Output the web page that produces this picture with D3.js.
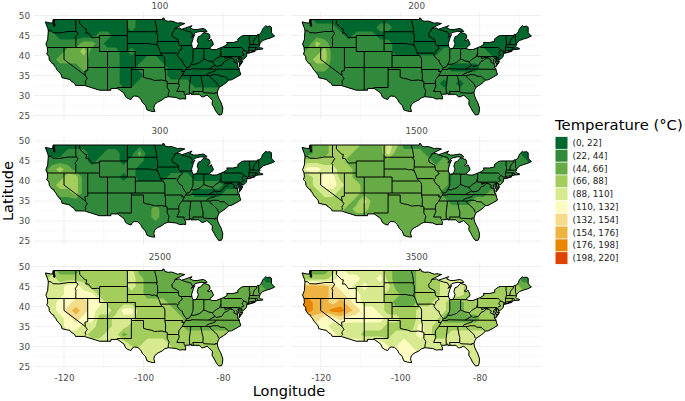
<!DOCTYPE html>
<html lang="en">
<head>
<meta charset="UTF-8">
<title>Temperature maps</title>
<script src="https://d3js.org/d3.v7.min.js"></script>
<style>
  body { margin: 0; background: white; }
  text { font-family: "DejaVu Sans", sans-serif; }
</style>
</head>
<body>
<svg id="chart" width="685" height="401"></svg>
<script>
// facet labels and legend
const panelLabels = ["100", "200", "300", "1500", "2500", "3500"];
const binLabels = ["(0, 22]", "(22, 44]", "(44, 66]", "(66, 88]", "(88, 110]", "(110, 132]", "(132, 154]", "(154, 176]", "(176, 198]", "(198, 220]"];
const binColors = ["#00682f", "#31893b", "#67ab47", "#a3cd5c", "#d8ea90", "#fdfcc0", "#f5dc8b", "#eeb443", "#e98600", "#dd4400"];
const lonTicks = [-120, -100, -80];
const latTicks = [25, 30, 35, 40, 45, 50];
const lonMinor = [-110, -90, -70];
const latMinor = [27.5, 32.5, 37.5, 42.5, 47.5];

// temperature class, one string per latitude 49,47..25
// columns are longitudes -125,-123..-67
const grid100 = [
  "00000 00000 01000 00000 00000 00000",
  "00000 00000 01000 00000 00000 00000",
  "11000 00110 00000 00000 00000 00000",
  "11111 22100 00000 00000 00000 00000",
  "11122 31111 01000 00000 00000 00000",
  "11222 21111 00011 00000 00000 00000",
  "11111 21111 00111 10000 00000 00000",
  "11111 11111 00011 10000 00000 00000",
  "11111 11111 00111 11110 00000 00000",
  "11111 11111 11111 11111 11110 00000",
  "11111 11111 11111 11111 11111 11111",
  "11111 11111 11111 11111 11111 11111",
  "11111 11111 11111 11111 11111 11111"
];
const grid200 = [
  "11000 00000 00000 00000 00000 00000",
  "11111 00000 11000 00000 00000 00000",
  "11111 10111 00000 00000 00000 00000",
  "11321 11111 11000 00000 00000 00000",
  "12231 11111 11000 00011 11110 00000",
  "12331 11111 11111 11111 11111 00000",
  "11221 11111 11111 11110 00011 11000",
  "11111 11111 11111 11111 11111 11111",
  "11111 11111 11111 11101 01111 11111",
  "11111 11111 11111 11111 11111 11111",
  "11111 11111 11111 11111 11111 11111",
  "11111 11111 11111 11111 11111 11111",
  "11111 11111 11111 11111 11111 11111"
];
const grid300 = [
  "00000 00000 00000 00000 00000 00000",
  "00011 10011 00200 00000 00000 00000",
  "11111 10111 01100 00000 00000 00000",
  "12321 11111 11000 00000 00000 00000",
  "12233 11111 01000 01110 00000 00000",
  "12333 11111 11111 11111 11100 00000",
  "11223 11111 11111 11110 00011 11000",
  "11111 11111 11111 11111 11111 11111",
  "11111 11111 11112 11111 11111 11111",
  "11111 11111 11112 11111 11111 11111",
  "11111 11111 11111 11111 11111 11111",
  "11111 11111 11111 11111 11111 11111",
  "11111 11111 11111 11111 11111 11111"
];
const grid1500 = [
  "11223 33322 24311 11111 11111 11100",
  "11223 33222 24222 21111 11111 11100",
  "33333 32222 22222 22121 11111 11110",
  "45544 33222 22222 22221 11111 11111",
  "33455 33222 22222 22221 11111 11111",
  "33455 43322 22222 22221 11111 21111",
  "33344 33322 22222 22211 11112 11111",
  "23333 33242 22222 22221 11222 22222",
  "22233 32332 22222 22222 22222 22222",
  "22222 22222 22222 22222 22222 22222",
  "22222 22222 22222 22222 22222 22222",
  "22222 22222 22222 22222 22222 22222",
  "22222 22222 22222 22222 22222 22222"
];
const grid2500 = [
  "33222 33333 34222 22222 22222 22100",
  "34333 33333 34322 22222 22222 22100",
  "34455 43333 34322 22222 22222 22211",
  "44455 55333 33322 22222 22222 22222",
  "44556 65533 33333 32222 22222 22222",
  "44567 65443 55333 33222 22222 22222",
  "33456 55334 44333 33322 22222 22222",
  "44455 44334 43333 33322 22222 22222",
  "44444 43344 23333 33333 33333 33333",
  "44444 44444 43344 43333 33333 33333",
  "44444 44444 44444 44333 33333 33333",
  "44444 44444 44444 44333 33333 33333",
  "44444 44444 44444 44333 33333 33333"
];
const grid3500 = [
  "22223 54444 43222 33344 44433 33110",
  "33334 55544 53222 33344 44433 33211",
  "77776 55454 44222 33344 43333 33322",
  "77776 65544 43322 33344 43333 33332",
  "88776 76544 43222 33442 23333 33333",
  "98778 87655 43333 44442 23333 33333",
  "66655 65555 54433 44422 22233 33333",
  "55554 44444 43333 54333 33333 33333",
  "55555 44433 33444 54334 44443 33333",
  "55555 55555 54454 44444 44444 44444",
  "55555 55556 65555 44444 44444 44444",
  "55555 55556 66555 44444 44444 44444",
  "55555 55556 66555 44444 44444 44444"
];
const panelGrids = [grid100, grid200, grid300, grid1500, grid2500, grid3500];

// US outline, lon/lat
const usOutline = [[-124.7,48.4],[-123.5,48.15],[-122.8,48.15],[-122.75,49],[-95.15,49],[-95.15,49.38],[-94.8,49.3],[-94.6,48.75],[-93.8,48.55],[-92.95,48.62],[-92,48.3],[-91.4,48.07],[-90.8,48.2],[-89.6,48],[-90.5,47.6],[-92.1,46.75],[-90.9,46.9],[-90.4,46.55],[-89.6,46.83],[-88.5,47.2],[-87.8,47.47],[-88.3,46.9],[-87.4,46.5],[-86.5,46.5],[-85,46.75],[-84.4,46.5],[-84,46],[-84.7,45.95],[-85.5,46.05],[-86.5,45.85],[-87,45.7],[-87.6,45.1],[-88,44.55],[-87.4,44.9],[-87.1,45.25],[-87.5,44.3],[-87.9,43],[-87.8,42.3],[-87.5,41.7],[-87,41.65],[-86.5,42.1],[-86.2,43],[-86.5,43.7],[-86.2,44.7],[-85.6,44.9],[-85,45.6],[-84.75,45.78],[-83.5,45.35],[-83.3,44.9],[-83.3,44.3],[-83.9,43.9],[-83.5,43.7],[-82.95,44.07],[-82.45,43],[-82.5,42.6],[-83.1,42.2],[-83.4,41.75],[-82.7,41.5],[-81.7,41.5],[-80.5,41.97],[-79.76,42.27],[-78.9,42.85],[-79.05,43.27],[-77.5,43.25],[-76.2,43.55],[-76.3,44.1],[-75.3,44.85],[-74.7,45],[-71.5,45.01],[-71.3,45.3],[-70.85,45.25],[-70.3,45.9],[-70,46.7],[-69.23,47.46],[-68.9,47.2],[-68.3,47.35],[-67.8,47.07],[-67.8,45.7],[-67.45,45.3],[-67,44.85],[-68,44.4],[-69,44.1],[-70,43.75],[-70.6,43.1],[-70.8,42.85],[-70.7,42.65],[-71,42.3],[-70.6,41.95],[-70,41.8],[-70,41.6],[-70.6,41.55],[-71.2,41.5],[-71.85,41.32],[-73,41.2],[-73.65,40.98],[-74,40.7],[-74,40.45],[-74.1,39.75],[-74.9,38.95],[-75.5,39.5],[-75.55,39.6],[-75.05,38.45],[-75.95,37.15],[-75.85,37.9],[-76.2,38.8],[-76,39.5],[-76.5,39],[-76.4,38.3],[-76.3,37.5],[-76.3,37],[-76,36.9],[-75.75,35.9],[-75.5,35.25],[-76.5,34.65],[-77.9,33.9],[-78.55,33.85],[-79.2,33.2],[-79.9,32.7],[-80.9,32.05],[-81.2,31.5],[-81.45,30.7],[-81.3,29.9],[-80.9,29],[-80.55,28.4],[-80.05,26.9],[-80.15,25.75],[-80.4,25.2],[-81.1,25.15],[-81.8,26.1],[-82.2,26.9],[-82.75,27.8],[-82.65,28.8],[-83.4,29.5],[-84,30.1],[-85,29.65],[-85.4,29.7],[-86,30.3],[-87.5,30.3],[-88,30.25],[-88,30.65],[-88.4,30.35],[-89.4,30.3],[-89.6,30.15],[-89.4,29.8],[-89.4,29.1],[-90,29.2],[-90.9,29.1],[-91.8,29.5],[-92.3,29.55],[-93.8,29.7],[-94.7,29.4],[-95.3,28.9],[-96.5,28.3],[-97.2,27.7],[-97.4,26.9],[-97.15,25.97],[-97.65,26],[-98.2,26.1],[-99.1,26.4],[-99.5,27.5],[-100.3,28.3],[-100.7,29.1],[-101.4,29.77],[-102.3,29.88],[-102.7,29.7],[-103.15,28.98],[-104,29.3],[-104.5,29.65],[-104.9,30.6],[-106.5,31.75],[-108.2,31.78],[-108.2,31.33],[-111.07,31.33],[-114.8,32.5],[-117.12,32.53],[-117.3,33],[-118.4,33.75],[-118.5,34.03],[-119.2,34.15],[-120.5,34.45],[-120.65,35.15],[-121.9,36.6],[-122,36.95],[-122.5,37.5],[-122.5,37.8],[-123,38],[-123.7,38.9],[-123.8,39.8],[-124.35,40.4],[-124.1,41],[-124.2,42],[-124.55,42.85],[-124.1,44],[-123.95,46.2],[-124.05,46.7]];
const longIsland = [[-74,40.6],[-72,41.15],[-71.9,41.05],[-73.5,40.58]];
const pugetSound = [[-122.5,48.9],[-122.6,48.3],[-122.4,47.6],[-122.6,47.3]];

// state borders
const stateBorders = [
  [[-124,46.25],[-123.2,46.15],[-122.8,45.7],[-121.2,45.65],[-119.3,45.93],[-119,46],[-116.92,46]],
  [[-117.03,49],[-117.04,46.4],[-116.92,46],[-116.47,45.6],[-116.85,44.95],[-117.2,44.4],[-116.95,44.1],[-117.03,43.8],[-117.03,42]],
  [[-124.2,42],[-111.05,42]],
  [[-120,42],[-120,39],[-114.63,35],[-114.15,34.3],[-114.5,33.8],[-114.7,33.4],[-114.5,33],[-114.72,32.72]],
  [[-114.04,42],[-114.04,36.2],[-114.74,36.1],[-114.63,35]],
  [[-114.04,37],[-94.62,37]],
  [[-109.05,41],[-109.05,31.33]],
  [[-111.05,45],[-111.05,41],[-102.05,41],[-102.05,37]],
  [[-111.05,45],[-104.05,45]],
  [[-116.05,49],[-116.05,48],[-114.7,46.7],[-114.3,46.65],[-114.5,45.6],[-113.9,45.65],[-113.45,45.05],[-113,44.45],[-111.5,44.55],[-111.05,44.47]],
  [[-104.05,49],[-104.05,41]],
  [[-104.05,45.94],[-96.56,45.94]],
  [[-104.05,43],[-98.5,43],[-97.9,42.8],[-97.2,42.85],[-96.45,42.49]],
  [[-102.05,40],[-95.3,40]],
  [[-103,37],[-103.04,36.5],[-103.06,32],[-106.6,32],[-106.5,31.75]],
  [[-103.04,36.5],[-100,36.5],[-100,34.56],[-99.2,34.3],[-98.1,34.1],[-97.2,33.75],[-96.5,33.8],[-95.4,33.87],[-94.48,33.64],[-94.04,33.55],[-94.04,32],[-93.55,31.2],[-93.75,30.4],[-93.8,29.7]],
  [[-97.23,49],[-96.85,47.6],[-96.56,45.94],[-96.85,45.6],[-96.45,45.3],[-96.45,43.5],[-91.22,43.5]],
  [[-96.45,43.5],[-96.6,42.9],[-96.45,42.49],[-96.1,41.7],[-95.9,41.2],[-95.75,40.6],[-95.3,40],[-94.9,39.8],[-94.62,39.1],[-94.62,36.5],[-94.43,35.4],[-94.48,33.64]],
  [[-94.04,33],[-91.17,33]],
  [[-94.62,36.5],[-90.15,36.5],[-90.37,36],[-89.7,36]],
  [[-95.75,40.58],[-91.73,40.61],[-91.42,40.38]],
  [[-92.1,46.75],[-92.29,46.1],[-92.85,45.6],[-92.75,44.75],[-91.25,43.9],[-91.22,43.5],[-91.1,42.7],[-90.64,42.5],[-90.2,41.8],[-91.05,41.2],[-91.1,40.7],[-91.42,40.38],[-91.5,40],[-90.7,39],[-90.2,38.8],[-90.2,38.4],[-89.5,37.3],[-89.15,37],[-89.4,36.5],[-89.7,36],[-90.3,35],[-91.1,33.95],[-91.17,33],[-91,32.4],[-91.6,31],[-89.73,31],[-89.85,30.67],[-89.55,30.2]],
  [[-90.64,42.5],[-87.8,42.5]],
  [[-90.4,46.55],[-89.1,46.13],[-88.1,45.9],[-87.8,45.35],[-87.6,45.1]],
  [[-87.2,41.76],[-84.8,41.76],[-84.8,41.7],[-83.45,41.73]],
  [[-87.53,41.7],[-87.53,39.35],[-87.6,38.7],[-87.95,38],[-88.05,37.8],[-88.45,37.1],[-89.15,37]],
  [[-84.8,41.7],[-84.82,39.1]],
  [[-88.05,37.8],[-87.1,37.8],[-86.3,38.1],[-85.7,38.3],[-85.4,38.7],[-84.82,39.1],[-84.3,38.95],[-83.7,38.65],[-82.6,38.42],[-82.1,38.9],[-81.75,39.2],[-80.85,39.7],[-80.52,40.64]],
  [[-80.52,41.97],[-80.52,39.72],[-75.79,39.72]],
  [[-79.76,42.27],[-79.76,42],[-75.35,42],[-74.7,41.36],[-75.13,40.98],[-75.2,40.65],[-74.72,40.15],[-75.4,39.8]],
  [[-74.7,41.36],[-73.9,41]],
  [[-73.65,41],[-73.5,41.3],[-73.5,42.05],[-73.27,42.75],[-73.25,43.6],[-73.4,44],[-73.34,45.01]],
  [[-73.27,42.75],[-71.3,42.7],[-70.85,42.87]],
  [[-73.5,42.05],[-71.38,42.02],[-71.2,41.5]],
  [[-71.8,42.02],[-71.85,41.32]],
  [[-72.46,42.73],[-72.3,43.6],[-72.05,44.1],[-71.55,44.6],[-71.5,45.01]],
  [[-71.05,45.3],[-70.98,43.4],[-70.72,43.07]],
  [[-75.79,39.72],[-75.7,38.46],[-75.05,38.45]],
  [[-75.79,39.72],[-75.55,39.6]],
  [[-75.25,38.03],[-75.9,37.95]],
  [[-79.49,39.72],[-79.49,39.2],[-78.4,39.6],[-77.75,39.32],[-77.1,38.9],[-77.3,38.4],[-76.3,37.95]],
  [[-77.75,39.32],[-78.35,39.4],[-78.9,38.8],[-79.65,38.55],[-80.3,37.55],[-81.7,37.25],[-81.97,37.54],[-82.6,38.15],[-82.6,38.42]],
  [[-81.97,37.54],[-83.68,36.6]],
  [[-89.4,36.5],[-88.07,36.5],[-88.07,36.68],[-83.68,36.6],[-81.68,36.59],[-75.87,36.55]],
  [[-90.3,35],[-84.32,35],[-84,35.4],[-83.1,35.75],[-82,36.1],[-81.68,36.59]],
  [[-84.32,35],[-83.1,35],[-82.4,35.2],[-81.05,35.15],[-80.8,34.82],[-79.67,34.8],[-78.55,33.85]],
  [[-83.1,35],[-83.35,34.7],[-82.75,34.2],[-81.9,33.4],[-81.45,33],[-81.1,32.1]],
  [[-88.2,35],[-88.1,34.9],[-88.47,31.9],[-88.4,30.35]],
  [[-85.6,34.98],[-85.18,32.85],[-85,32.3],[-85.05,31]],
  [[-87.45,30.35],[-87.6,31],[-85,31],[-84.86,30.7],[-82.2,30.57],[-82.05,30.36],[-82,30.75],[-81.45,30.7]]
];

const svg = d3.select("#chart");

const panelHeight = 100;
const colX = [64, 320.7];
const rowY = [15.5, 141, 266.5];
const nCols = 30;
const nRows = 13;

const contourMaker = d3.contours().size([nCols, nRows]).thresholds(d3.range(0, 10).map(d => d - 0.5));

panelLabels.forEach((label, i) => {
  const col = i % 2;
  const row = Math.floor(i / 2);

  const x = d3.scaleLinear().domain([-120, -80]).range([colX[col], colX[col] + 159]);
  const y = d3.scaleLinear().domain([50, 25]).range([rowY[row], rowY[row] + panelHeight]);
  const line = d3.line().x(d => x(d[0])).y(d => y(d[1]));

  const g = svg.append("g");

  // grid lines
  const left = x(-127.5), right = x(-64.5), top = y(50.9), bottom = y(24.1);
  lonMinor.forEach(v => g.append("line").attr("x1", x(v)).attr("x2", x(v)).attr("y1", top).attr("y2", bottom).style("stroke", "#f3f3f3").style("stroke-width", 0.5));
  latMinor.forEach(v => g.append("line").attr("x1", left).attr("x2", right).attr("y1", y(v)).attr("y2", y(v)).style("stroke", "#f3f3f3").style("stroke-width", 0.5));
  lonTicks.forEach(v => g.append("line").attr("x1", x(v)).attr("x2", x(v)).attr("y1", top).attr("y2", bottom).style("stroke", "#ebebeb").style("stroke-width", 0.8));
  latTicks.forEach(v => g.append("line").attr("x1", left).attr("x2", right).attr("y1", y(v)).attr("y2", y(v)).style("stroke", "#ebebeb").style("stroke-width", 0.8));

  // clip to the country
  g.append("clipPath").attr("id", "clip" + i)
    .selectAll("path").data([usOutline, longIsland]).enter().append("path")
    .attr("d", d => line(d) + "Z");

  // temperature classes as filled contours of the grid
  const values = panelGrids[i].join("").replace(/ /g, "").split("").map(Number);
  const project = d3.geoTransform({
    point: function (cx, cy) {
      this.stream.point(x(-125 + 2 * (cx - 0.5)), y(49 - 2 * (cy - 0.5)));
    }
  });
  g.append("g").attr("clip-path", "url(#clip" + i + ")")
    .selectAll("path").data(contourMaker(values)).enter().append("path")
    .attr("d", d3.geoPath(project))
    .style("fill", d => binColors[d.value + 0.5])
    .style("stroke", "none");

  // outlines
  g.selectAll("path.state").data(stateBorders).enter().append("path").attr("class", "state")
    .attr("d", line).style("fill", "none").style("stroke", "#000").style("stroke-width", 1);
  g.selectAll("path.coast").data([usOutline, longIsland]).enter().append("path").attr("class", "coast")
    .attr("d", d => line(d) + "Z").style("fill", "none").style("stroke", "#000").style("stroke-width", 1);
  g.append("path").attr("d", line(pugetSound)).style("fill", "none").style("stroke", "#000").style("stroke-width", 2.2);

  // facet title
  svg.append("text").attr("x", (left + right) / 2 + 0.5).attr("y", rowY[row] - 7)
    .attr("text-anchor", "middle").style("font-size", "8.8px").style("fill", "#4d4d4d").text(label);

  // axes only on the outer panels
  if (col === 0) {
    const axisY = svg.append("g").attr("transform", "translate(32,0)")
      .call(d3.axisLeft(y).tickValues(latTicks).tickSize(0).tickPadding(2));
    axisY.select(".domain").remove();
    axisY.selectAll("text").style("font-size", "8.8px").style("fill", "#4d4d4d").style("font-family", "DejaVu Sans");
  }
  if (row === 2) {
    const axisX = svg.append("g").attr("transform", "translate(0," + (bottom + 1) + ")")
      .call(d3.axisBottom(x).tickValues(lonTicks).tickSize(0).tickPadding(4).tickFormat(d => d3.format("d")(d).replace("\u2212", "-")));
    axisX.select(".domain").remove();
    axisX.selectAll("text").style("font-size", "8.8px").style("fill", "#4d4d4d").style("font-family", "DejaVu Sans");
  }
});

// axis titles
svg.append("text").attr("x", 289).attr("y", 396).attr("text-anchor", "middle").style("font-size", "14.6px").text("Longitude");
svg.append("text").attr("transform", "translate(13,191) rotate(-90)").attr("text-anchor", "middle").style("font-size", "14.6px").text("Latitude");

// legend
svg.append("text").attr("x", 555).attr("y", 130).style("font-size", "14.8px").text("Temperature (\u00B0C)");
const keyScale = d3.scaleBand().domain(binLabels).range([136.5, 264.5]);
svg.selectAll("rect.key").data(binLabels).enter().append("rect").attr("class", "key")
  .attr("x", 555.5).attr("width", 12).attr("y", d => keyScale(d) + 0.4).attr("height", keyScale.bandwidth() - 0.8)
  .style("fill", (d, i) => binColors[i]);
svg.selectAll("text.key").data(binLabels).enter().append("text").attr("class", "key")
  .attr("x", 572.5).attr("y", d => keyScale(d) + keyScale.bandwidth() / 2 + 3)
  .style("font-size", "8.8px").style("fill", "#222").text(d => d);
</script>
</body>
</html>
